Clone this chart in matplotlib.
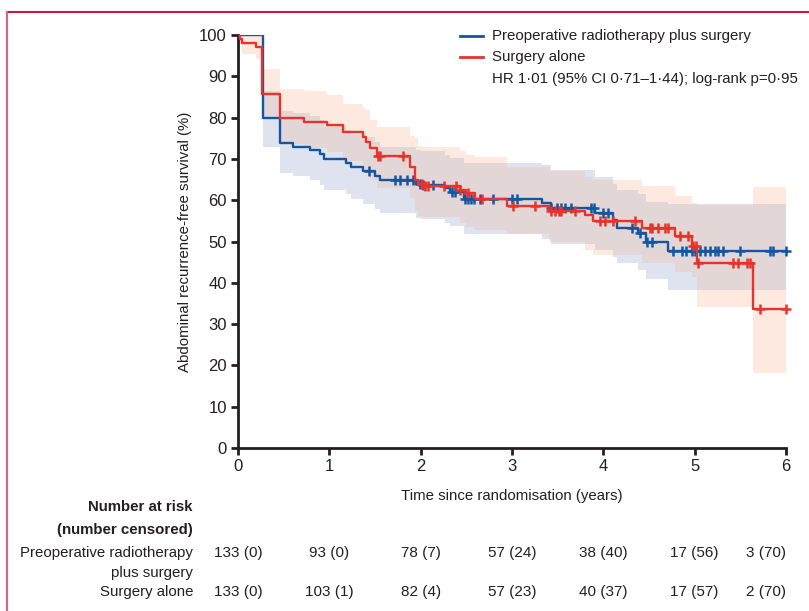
import numpy as np
import matplotlib
matplotlib.use("Agg")
import matplotlib.pyplot as plt
from matplotlib.lines import Line2D
from matplotlib.transforms import blended_transform_factory

# ---------------- data ----------------
# Preoperative radiotherapy plus surgery (blue)
blue_t  = [0, 0.27, 0.46, 0.60, 0.79, 0.90, 0.94, 1.18, 1.24, 1.37, 1.50, 1.55, 1.95, 2.00, 2.27, 2.32, 2.47, 3.33, 3.43, 3.91, 4.11, 4.15, 4.38, 4.47, 4.71]
blue_s  = [100, 80.0, 73.8, 73.0, 72.2, 71.2, 70.0, 69.0, 68.0, 67.0, 65.8, 64.9, 64.0, 63.7, 62.9, 62.1, 60.4, 59.4, 58.2, 56.8, 55.2, 53.3, 52.0, 50.0, 47.8]
blue_lo = [100, 73.0, 66.7, 65.8, 64.8, 63.8, 62.5, 61.4, 60.3, 59.2, 57.9, 56.9, 55.8, 55.5, 54.6, 53.7, 51.9, 50.7, 49.5, 48.0, 46.3, 44.9, 43.1, 40.8, 38.3]
blue_hi = [100, 86.5, 81.7, 81.0, 80.5, 79.5, 78.0, 77.0, 76.0, 75.2, 74.0, 73.0, 72.2, 71.8, 71.0, 70.3, 68.9, 68.5, 67.3, 65.5, 64.0, 62.5, 61.4, 59.5, 59.2]
blue_cens = [1.43, 1.72, 1.77, 1.85, 1.92, 1.99, 2.03, 2.14, 2.34, 2.38, 2.49, 2.52, 2.55, 2.58, 2.65, 2.79, 3.00, 3.05,
             3.43, 3.49, 3.54, 3.58, 3.65, 3.87, 3.90, 4.00, 4.05, 4.31, 4.40, 4.48, 4.53,
             4.76, 4.86, 4.91, 4.97, 5.00, 5.06, 5.11, 5.17, 5.22, 5.26, 5.31, 5.50, 5.82, 5.86, 6.00]

# Surgery alone (red)
red_t  = [0, 0.02, 0.04, 0.20, 0.26, 0.46, 0.72, 0.97, 1.15, 1.37, 1.40, 1.45, 1.52, 1.88, 1.94, 1.97, 2.02, 2.43, 2.50, 2.59, 2.94, 3.40, 3.80, 3.89, 4.42, 4.78, 4.97, 5.03, 5.64]
red_s  = [100, 99.0, 98.0, 97.0, 85.8, 79.8, 79.0, 78.2, 76.4, 75.2, 74.0, 72.6, 70.6, 68.0, 65.0, 64.0, 63.5, 62.5, 61.7, 60.4, 58.6, 57.5, 56.3, 55.0, 53.3, 51.4, 49.0, 44.9, 33.7]
red_lo = [100, 97.5, 95.3, 94.1, 79.6, 73.5, 72.6, 71.6, 69.5, 68.0, 66.5, 64.8, 62.9, 60.5, 57.5, 56.1, 55.9, 54.4, 53.5, 52.8, 51.8, 49.8, 47.9, 46.7, 44.9, 42.7, 41.5, 34.2, 18.2]
red_hi = [100, 100, 100, 100, 91.8, 86.9, 86.5, 85.5, 83.4, 82.4, 81.8, 79.5, 77.8, 75.5, 75.0, 73.2, 73.0, 71.9, 70.9, 70.4, 68.1, 67.0, 65.7, 64.9, 63.4, 60.9, 59.4, 58.8, 63.1]
red_cens = [1.53, 1.56, 1.81, 2.01, 2.05, 2.08, 2.25, 2.39, 2.43, 2.52, 2.67, 3.01, 3.25, 3.43, 3.47, 3.51, 3.54, 3.69,
            3.96, 4.02, 4.11, 4.35, 4.51, 4.53, 4.60, 4.68, 4.71, 4.84, 4.93, 4.98, 5.02, 5.04,
            5.42, 5.47, 5.57, 5.61, 5.72, 6.00]

x_ticks = [0, 1, 2, 3, 4, 5, 6]
y_ticks = list(range(0, 101, 10))
risk_blue = ["133 (0)", "93 (0)", "78 (7)", "57 (24)", "38 (40)", "17 (56)", "3 (70)"]
risk_red  = ["133 (0)", "103 (1)", "82 (4)", "57 (23)", "40 (37)", "17 (57)", "2 (70)"]
label_blue = "Preoperative radiotherapy plus surgery"
label_red = "Surgery alone"
hr_text = "HR 1·01 (95% CI 0·71–1·44); log-rank p=0·95"

# ---------------- style ----------------
plt.rcParams["font.family"] = ["Liberation Sans", "DejaVu Sans"]

BLUE = "#1257a1"
RED = "#e8322a"
C_BLUE_BAND = "#dfe3f0"
C_RED_BAND = "#fde9df"
C_OVERLAP = "#e3d6d6"
TXT = "#231f20"
FS_TICK = 12
FS = 10.8
FS_NUM = 11

W, H = 809, 611
fig = plt.figure(figsize=(W/100, H/100), dpi=100)
ax = fig.add_axes([238/W, 1-448/H, (786-238)/W, (448-35)/H])

END = 6.0

def ext(t, v):
    return np.array(list(t) + [END]), np.array(list(v) + [v[-1]])

def step_eval(t, v, x):
    t = np.asarray(t); v = np.asarray(v)
    idx = np.searchsorted(t, x, side="right") - 1
    return v[np.clip(idx, 0, len(v)-1)]

grid = np.unique(np.concatenate([blue_t, red_t, [END]]))
b_lo = step_eval(blue_t, blue_lo, grid); b_hi = step_eval(blue_t, blue_hi, grid)
r_lo = step_eval(red_t, red_lo, grid); r_hi = step_eval(red_t, red_hi, grid)
o_lo = np.maximum(b_lo, r_lo); o_hi = np.minimum(b_hi, r_hi)
o_hi = np.maximum(o_hi, o_lo)

ax.fill_between(grid, b_lo, b_hi, step="post", color=C_BLUE_BAND, lw=0, zorder=1)
ax.fill_between(grid, r_lo, r_hi, step="post", color=C_RED_BAND, lw=0, zorder=1.1)
ax.fill_between(grid, o_lo, o_hi, step="post", color=C_OVERLAP, lw=0, zorder=1.2)

bt, bs = ext(blue_t, blue_s)
rt, rs = ext(red_t, red_s)
ax.step(bt, bs, where="post", color=BLUE, lw=1.7, zorder=3)
ax.step(rt, rs, where="post", color=RED, lw=1.7, zorder=4)

ax.plot(blue_cens, step_eval(blue_t, blue_s, np.array(blue_cens)), ls="none", marker="+",
        ms=6.5, mew=1.8, color=BLUE, zorder=3.5, clip_on=False)
ax.plot(red_cens, step_eval(red_t, red_s, np.array(red_cens)), ls="none", marker="+",
        ms=6.5, mew=1.8, color=RED, zorder=4.5, clip_on=False)

ax.set_xlim(0, 6)
ax.set_ylim(0, 100)
ax.set_xticks(x_ticks)
ax.set_yticks(y_ticks)
for s in ["top", "right"]:
    ax.spines[s].set_visible(False)
for s in ["left", "bottom"]:
    ax.spines[s].set_linewidth(2.0)
    ax.spines[s].set_color(TXT)
ax.tick_params(direction="out", length=5, width=2.0, color=TXT, labelsize=FS_TICK, labelcolor=TXT, pad=3)
ax.set_ylabel("Abdominal recurrence-free survival (%)", fontsize=FS, color=TXT, labelpad=5)
ax.set_xlabel("Time since randomisation (years)", fontsize=FS, color=TXT, labelpad=11)

def fy(py):
    return 1 - py/H
def fx(px):
    return px/W

# legend (drawn manually to match placement)
for py, col, lab in [(36, BLUE, label_blue), (57, RED, label_red)]:
    fig.add_artist(Line2D([fx(460), fx(483)], [fy(py), fy(py)], transform=fig.transFigure, color=col, lw=2.0))
    fig.text(fx(492), fy(py), lab, ha="left", va="center", fontsize=FS, color=TXT)
fig.text(fx(492), fy(79), hr_text, ha="left", va="center", fontsize=FS, color=TXT)

# number at risk table
tr = blended_transform_factory(ax.transData, fig.transFigure)
fig.text(fx(193), fy(507), "Number at risk", ha="right", va="center", fontsize=FS, fontweight="bold", color=TXT)
fig.text(fx(193), fy(530), "(number censored)", ha="right", va="center", fontsize=FS, fontweight="bold", color=TXT)
fig.text(fx(193), fy(553), "Preoperative radiotherapy", ha="right", va="center", fontsize=FS, color=TXT)
fig.text(fx(193), fy(573), "plus surgery", ha="right", va="center", fontsize=FS, color=TXT)
fig.text(fx(193), fy(592), "Surgery alone", ha="right", va="center", fontsize=FS, color=TXT)
for i, xv in enumerate(x_ticks):
    ha = "right" if i == len(x_ticks)-1 else "center"
    ax.text(xv, fy(553), risk_blue[i], transform=tr, ha=ha, va="center", fontsize=FS_NUM, color=TXT)
    ax.text(xv, fy(592), risk_red[i], transform=tr, ha=ha, va="center", fontsize=FS_NUM, color=TXT)

# border
fig.add_artist(Line2D([fx(6.5), 1], [fy(12), fy(12)], transform=fig.transFigure, color="#c8174b", lw=1.5))
fig.add_artist(Line2D([fx(6.5), fx(6.5)], [0, fy(12)], transform=fig.transFigure, color="#d9628a", lw=1.5))

fig.savefig("out.png", dpi=100)
